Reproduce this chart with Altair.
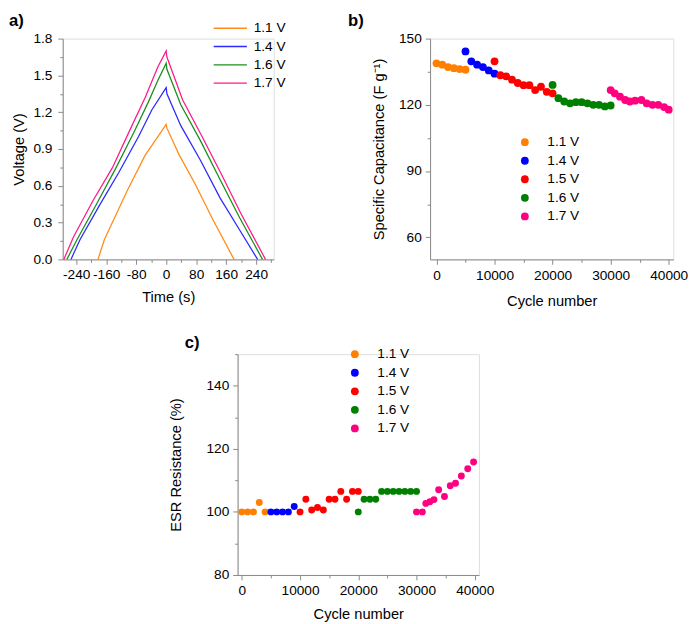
import altair as alt
import pandas as pd

FONT = "Liberation Sans"

# ---------------- panel a: charge/discharge curves ----------------
a_series = ["1.1 V", "1.4 V", "1.6 V", "1.7 V"]
a_colors = ["#FF8C1A", "#2B2BFF", "#1A8F1A", "#FF1A8C"]

t_11 = [-182, -165, -104, -56, -22, 0, 2, 35, 78, 122, 181]
v_11 = [0.0, 0.16, 0.56, 0.85, 1.00, 1.10, 1.07, 0.85, 0.61, 0.34, 0.0]
t_14 = [-254, -230, -178, -126, -74, -38, 0, 2, 39, 91, 144, 196, 244]
v_14 = [0.0, 0.16, 0.44, 0.71, 1.00, 1.22, 1.40, 1.35, 1.09, 0.81, 0.50, 0.24, 0.0]
t_16 = [-265, -238, -186, -135, -87, -48, -22, 0, 2, 39, 91, 144, 196, 257]
v_16 = [0.0, 0.16, 0.45, 0.74, 1.03, 1.28, 1.46, 1.60, 1.55, 1.26, 0.97, 0.65, 0.34, 0.0]
t_17 = [-273, -247, -195, -143, -96, -56, -22, 0, 2, 44, 96, 148, 200, 265]
v_17 = [0.0, 0.185, 0.48, 0.75, 1.06, 1.32, 1.57, 1.70, 1.65, 1.30, 1.00, 0.69, 0.37, 0.0]

# ---------------- panels b and c ----------------
bc_series = ["1.1 V", "1.4 V", "1.5 V", "1.6 V", "1.7 V"]
bc_colors = ["#FF8000", "#0000FF", "#FF0000", "#008000", "#FF0080"]

b_x_11 = [0, 1000, 2000, 3000, 4000, 5000]
b_y_11 = [138.8, 138.2, 137.1, 136.6, 136.2, 135.9]
b_x_14 = [5000, 6000, 7000, 8000, 9000, 10000]
b_y_14 = [144.2, 139.7, 138.2, 137.1, 135.6, 134.1]
b_x_15 = [10000, 11000, 12000, 13000, 14000, 15000, 16000, 17000, 18000, 19000, 20000]
b_y_15 = [139.7, 133.4, 132.9, 131.4, 129.9, 128.9, 128.9, 126.7, 128.2, 125.9, 125.2]
b_x_16 = [20000, 21000, 22000, 23000, 24000, 25000, 26000, 27000, 28000, 29000, 30000]
b_y_16 = [129.0, 123.0, 121.5, 120.7, 121.2, 121.2, 120.7, 120.0, 120.0, 119.3, 119.7]
b_x_17 = [30000, 30700, 31600, 32500, 33300, 34200, 35300, 36200, 37200, 38200, 39200, 40000]
b_y_17 = [126.7, 125.2, 123.7, 122.2, 121.5, 121.9, 122.2, 120.7, 120.0, 120.0, 119.0, 117.8]

c_x_11 = [0, 1000, 2000, 3000, 4000]
c_y_11 = [100, 100, 100, 103, 100]
c_x_14 = [5000, 6000, 7000, 8000, 9000]
c_y_14 = [100, 100, 100, 100, 101.7]
c_x_15 = [10000, 11000, 12000, 13000, 14000, 15000, 16000, 17000, 18000, 19000, 20000]
c_y_15 = [100, 104, 100.6, 101.4, 100.6, 104, 104, 106.5, 104, 106.5, 106.5]
c_x_16 = [20000, 21000, 22000, 23000, 24000, 25000, 26000, 27000, 28000, 29000, 30000]
c_y_16 = [100, 104, 104, 104, 106.5, 106.5, 106.5, 106.5, 106.5, 106.5, 106.5]
c_x_17 = [30000, 31000, 31600, 32300, 33000, 33800, 34800, 35800, 36700, 37700, 38800, 39800]
c_y_17 = [100, 100, 102.7, 103.2, 103.9, 107, 104.9, 108.3, 109.1, 111.4, 113.7, 115.8]


def long_df(xs, ys, names, xname, yname):
    rows = []
    for x, y, n in zip(xs, ys, names):
        for i, (xi, yi) in enumerate(zip(x, y)):
            rows.append({xname: xi, yname: yi, "Series": n, "i": i})
    return pd.DataFrame(rows)


df_a = long_df([t_11, t_14, t_16, t_17], [v_11, v_14, v_16, v_17], a_series, "Time", "Voltage")
df_b = long_df([b_x_11, b_x_14, b_x_15, b_x_16, b_x_17],
               [b_y_11, b_y_14, b_y_15, b_y_16, b_y_17], bc_series, "Cycle", "Cap")
df_c = long_df([c_x_11, c_x_14, c_x_15, c_x_16, c_x_17],
               [c_y_11, c_y_14, c_y_15, c_y_16, c_y_17], bc_series, "Cycle", "ESR")


def mk_axis(values, major_test, fmt, title, label_pad, title_pad, plain=True):
    label = "('' + datum.value)" if plain else "datum.label"
    return alt.Axis(
        values=values,
        format=fmt,
        labelExpr="(" + major_test + ") ? " + label + " : ''",
        tickSize={"condition": {"test": major_test, "value": 5}, "value": 3},
        labelPadding=label_pad,
        titlePadding=title_pad,
        title=title,
        titleFontWeight="normal",
        titleFontSize=15,
        titleFont=FONT,
        labelFont=FONT,
        labelFontSize=14,
        labelOverlap=False,
        labelFlush=False,
        grid=False,
    )


def panel_label(text, dx, dy):
    return alt.Chart(pd.DataFrame({"lab": [text]})).mark_text(
        align="left", baseline="top", fontSize=17, fontWeight="bold", font=FONT, color="black"
    ).encode(x=alt.value(dx), y=alt.value(dy), text="lab:N")


# ---- panel a
a_lines = alt.Chart(df_a).mark_line(strokeWidth=1.3).encode(
    x=alt.X("Time:Q", scale=alt.Scale(domain=[-276, 287], nice=False, zero=False),
            axis=mk_axis(list(range(-240, 281, 40)), "datum.value % 80 === 0", "d",
                         "Time (s)", 4, 8)),
    y=alt.Y("Voltage:Q", scale=alt.Scale(domain=[0, 1.8], nice=False, zero=False),
            axis=mk_axis([round(i * 0.15, 2) for i in range(13)],
                         "round(datum.value*100) % 30 === 0", ".1f", "Voltage (V)", 6, 7,
                         plain=False)),
    color=alt.Color("Series:N", scale=alt.Scale(domain=a_series, range=a_colors),
                    legend=alt.Legend(orient="none", legendX=162, legendY=-20, title=None,
                                      symbolType="M-2,0H2", symbolSize=289, symbolStrokeWidth=1.5,
                                      labelFontSize=14, labelFont=FONT, labelColor="black",
                                      labelOffset=14.5, rowPadding=1.7, padding=0)),
    order="i:Q",
    detail="Series:N",
)
panel_a = alt.layer(a_lines, panel_label("a)", -55, -26)).properties(width=216, height=226)

# ---- panel b
b_pts = alt.Chart(df_b).mark_circle(size=64, opacity=1).encode(
    x=alt.X("Cycle:Q", scale=alt.Scale(domain=[-1100, 40800], nice=False, zero=False),
            axis=mk_axis(list(range(0, 40001, 5000)), "datum.value % 10000 === 0", "d",
                         "Cycle number", 5, 11)),
    y=alt.Y("Cap:Q", scale=alt.Scale(domain=[50, 150], nice=False, zero=False),
            axis=mk_axis([60, 75, 90, 105, 120, 135, 150], "datum.value % 30 === 0", "d",
                         "Specific Capacitance (F g\u207b\u00b9)", 4, 12)),
    color=alt.Color("Series:N", scale=alt.Scale(domain=bc_series, range=bc_colors),
                    legend=alt.Legend(orient="none", legendX=90, legendY=99, title=None,
                                      symbolType="circle", symbolSize=64, symbolStrokeWidth=0,
                                      labelFontSize=14, labelFont=FONT, labelColor="black",
                                      labelOffset=16, rowPadding=5, padding=0)),
)
panel_b = alt.layer(b_pts, panel_label("b)", -84, -26)).properties(width=249, height=226)

# ---- panel c
c_pts = alt.Chart(df_c).mark_circle(size=50, opacity=1).encode(
    x=alt.X("Cycle:Q", scale=alt.Scale(domain=[-720, 40720], nice=False, zero=False),
            axis=mk_axis(list(range(0, 40001, 5000)), "datum.value % 10000 === 0", "d",
                         "Cycle number", 4, 10)),
    y=alt.Y("ESR:Q", scale=alt.Scale(domain=[80, 150], nice=False, zero=False),
            axis=mk_axis([80, 90, 100, 110, 120, 130, 140, 150], "datum.value % 20 === 0", "d",
                         "ESR Resistance (%)", 4, 23)),
    color=alt.Color("Series:N", scale=alt.Scale(domain=bc_series, range=bc_colors),
                    legend=alt.Legend(orient="none", legendX=113, legendY=-7, title=None,
                                      symbolType="circle", symbolSize=64, symbolStrokeWidth=0,
                                      labelFontSize=14, labelFont=FONT, labelColor="black",
                                      labelOffset=16, rowPadding=5, padding=0)),
)
panel_c = alt.layer(c_pts, panel_label("c)", -54, -19)).properties(width=247, height=226)

spacer = alt.Chart(pd.DataFrame({"v": [0], "s": [""]})).mark_text().encode(
    x=alt.X("v:Q", axis=None), y=alt.Y("v:Q", axis=None), text="s:N"
).properties(width=108, height=1,
             view=alt.ViewBackground(stroke="transparent", strokeWidth=0, fill="transparent"))

row1 = alt.hconcat(panel_a, panel_b, spacing=61).resolve_scale(color="independent")
row2 = alt.hconcat(spacer, panel_c, spacing=0).resolve_scale(color="independent")

chart = alt.vconcat(row1, row2, spacing=25).resolve_scale(
    color="independent"
).properties(
    padding={"left": 0, "top": -4, "right": 0, "bottom": 0}
).configure_view(stroke="transparent", strokeWidth=0).configure_axis(
    domainColor="black", tickColor="black", labelColor="black", titleColor="black",
    domainWidth=1.5, tickWidth=1.5,
).configure(background="white")

chart.save("out.html", embed_options={"renderer": "svg", "actions": False})
